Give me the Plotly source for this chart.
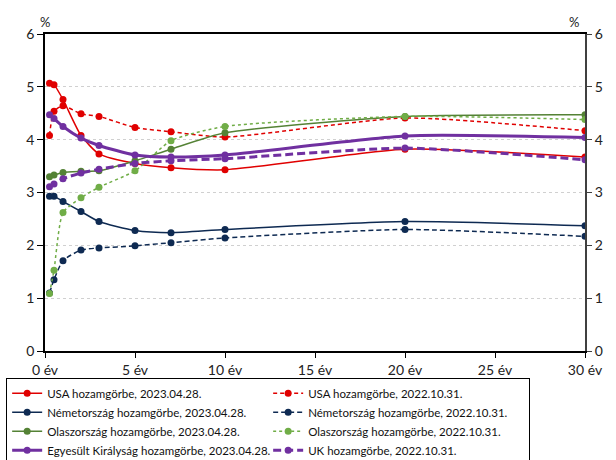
import plotly.graph_objects as go

maturities = [0.25, 0.5, 1, 2, 3, 5, 7, 10, 20, 30]

usa_2023 = [5.07, 5.04, 4.76, 4.08, 3.73, 3.55, 3.47, 3.43, 3.82, 3.67]
usa_2022 = [4.08, 4.54, 4.64, 4.49, 4.44, 4.23, 4.15, 4.05, 4.41, 4.17]
ger_2023 = [2.93, 2.93, 2.83, 2.64, 2.45, 2.28, 2.24, 2.30, 2.45, 2.37]
ger_2022 = [1.10, 1.35, 1.71, 1.91, 1.95, 1.99, 2.05, 2.14, 2.30, 2.17]
ita_2023 = [3.30, 3.33, 3.38, 3.40, 3.41, 3.60, 3.82, 4.13, 4.44, 4.47]
ita_2022 = [1.09, 1.53, 2.62, 2.90, 3.10, 3.41, 3.98, 4.25, 4.44, 4.38]
uk_2023 = [4.47, 4.40, 4.25, 4.03, 3.89, 3.71, 3.67, 3.71, 4.07, 4.04]
uk_2022 = [3.11, 3.16, 3.26, 3.37, 3.44, 3.55, 3.60, 3.64, 3.84, 3.62]

names = [
    "USA hozamgörbe, 2023.04.28.",
    "USA hozamgörbe, 2022.10.31.",
    "Németország hozamgörbe, 2023.04.28.",
    "Németország hozamgörbe, 2022.10.31.",
    "Olaszország hozamgörbe, 2023.04.28.",
    "Olaszország hozamgörbe, 2022.10.31.",
    "Egyesült Királyság hozamgörbe, 2023.04.28.",
    "UK hozamgörbe, 2022.10.31.",
]

x_tickvals = [0, 5, 10, 15, 20, 25, 30]
x_ticktext = ["0 év", "5 év", "10 év", "15 év", "20 év", "25 év", "30 év"]
y_tickvals = [0, 1, 2, 3, 4, 5, 6]

RED = "#E00000"
NAVY = "#0E2A52"
GREEN = "#548235"
LGREEN = "#70AD47"
PURPLE = "#7030A0"

series = [
    (usa_2023, names[0], RED, 1.5, "solid"),
    (usa_2022, names[1], RED, 1.5, "4px,3px"),
    (ger_2023, names[2], NAVY, 1.5, "solid"),
    (ger_2022, names[3], NAVY, 1.5, "5px,3px"),
    (ita_2023, names[4], GREEN, 1.5, "solid"),
    (ita_2022, names[5], LGREEN, 1.5, "3px,3px"),
    (uk_2023, names[6], PURPLE, 3, "solid"),
    (uk_2022, names[7], PURPLE, 3, "8px,4px"),
]

fig = go.Figure()
for vals, name, color, width, dash in series:
    fig.add_trace(go.Scatter(
        x=maturities, y=vals, name=name, mode="lines+markers",
        line=dict(color=color, width=width, dash=dash, shape="spline", smoothing=0.6),
        marker=dict(color=color, size=7, symbol="circle"),
    ))

fig.add_trace(go.Scatter(x=[0], y=[0], yaxis="y2", showlegend=False,
                         mode="markers", marker=dict(opacity=0), hoverinfo="skip"))

font_family = "Lato, Open Sans, Arial"

fig.update_layout(
    width=616, height=460,
    margin=dict(l=45, r=31, t=34, b=109, autoexpand=False),
    paper_bgcolor="white", plot_bgcolor="white",
    font=dict(family=font_family, size=14, color="#222222"),
    xaxis=dict(
        range=[0, 30], tickvals=x_tickvals, ticktext=x_ticktext,
        showgrid=False, zeroline=False,
        showline=True, linecolor="#000000", linewidth=1.5, mirror=True,
        ticks="outside", ticklen=5, tickcolor="#000000",
        tickfont=dict(size=14),
    ),
    yaxis=dict(
        range=[0, 6], tickvals=y_tickvals,
        showgrid=True, gridcolor="#D0D0D0", griddash="dot", gridwidth=1,
        zeroline=False, showline=True, linecolor="#000000", linewidth=1.5,
        ticks="outside", ticklen=6, tickcolor="#000000",
        tickfont=dict(size=14),
    ),
    yaxis2=dict(
        range=[0, 6], tickvals=y_tickvals, overlaying="y", side="right",
        showgrid=False, zeroline=False, showline=True, linecolor="#404040",
        linewidth=2, ticks="outside", ticklen=5, tickcolor="#404040",
        tickfont=dict(size=14),
    ),
    legend=dict(
        orientation="h", xref="container", yref="container",
        x=0.01, y=0.179, xanchor="left", yanchor="top",
        entrywidth=216, entrywidthmode="pixels",
        bordercolor="#000000", borderwidth=1, bgcolor="white",
        font=dict(family=font_family, size=11.5, color="#111111"),
        itemwidth=30, tracegroupgap=0,
    ),
    showlegend=True,
    annotations=[
        dict(text="%", xref="paper", yref="paper", x=0, y=1, xanchor="center",
             yanchor="bottom", yshift=2, showarrow=False, font=dict(size=13)),
        dict(text="%", xref="paper", yref="paper", x=0.98, y=1, xanchor="center",
             yanchor="bottom", yshift=2, showarrow=False, font=dict(size=13)),
    ],
)

fig.write_html(
    "out.html",
    config={"displayModeBar": False},
    post_script="document.body.style.margin='0';document.body.style.overflow='hidden';",
)
